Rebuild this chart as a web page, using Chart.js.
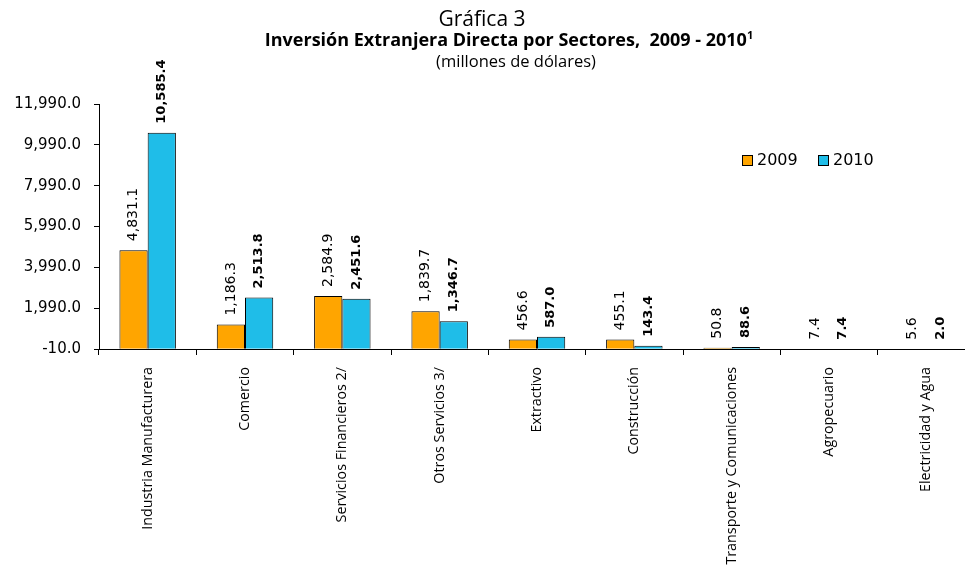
<!DOCTYPE html>
<html>
<head>
<meta charset="utf-8">
<script src="https://cdn.jsdelivr.net/npm/chart.js@4.4.1/dist/chart.umd.min.js"></script>
<style>
  body { margin: 0; background: #fff; overflow: hidden; }
  #wrap { width: 965px; height: 566px; overflow: hidden; }
</style>
</head>
<body>
<div id="wrap"><canvas id="chart-ied" width="975" height="566"></canvas></div>
<script>
// Chart data
const sectores = [
    'Industria Manufacturera', 'Comercio', 'Servicios Financieros 2/', 'Otros Servicios 3/',
    'Extractivo', 'Construcción', 'Transporte y Comunicaciones', 'Agropecuario', 'Electricidad y Agua'
];
const valores2009 = [4831.1, 1186.3, 2584.9, 1839.7, 456.6, 455.1, 50.8, 7.4, 5.6];
const valores2010 = [10585.4, 2513.8, 2451.6, 1346.7, 587.0, 143.4, 88.6, 7.4, 2.0];
const yTicks = [-10, 1990, 3990, 5990, 7990, 9990, 11990];

const titulo = 'Gráfica 3';
const subtitulo = 'Inversión Extranjera Directa por Sectores,  2009 - 2010';
const nota = '1';
const unidades = '(millones de dólares)';

const SANS = '"Open Sans", "Noto Sans", sans-serif';
const fmt = v => v.toLocaleString('en-US', { minimumFractionDigits: 1, maximumFractionDigits: 1 });

// Titles drawn over the page
const titulosPlugin = {
    id: 'titulos',
    afterDraw(chart) {
        const ctx = chart.ctx;
        ctx.save();
        ctx.fillStyle = '#000';
        ctx.textBaseline = 'alphabetic';

        ctx.textAlign = 'center';
        ctx.font = '21px ' + SANS;
        ctx.fillText(titulo, 482, 26);

        ctx.font = 'bold 18px ' + SANS;
        const w = ctx.measureText(subtitulo).width;
        ctx.font = 'bold 11px ' + SANS;
        const wn = ctx.measureText(nota).width;
        const x0 = 509 - (w + wn) / 2;
        ctx.textAlign = 'left';
        ctx.font = 'bold 18px ' + SANS;
        ctx.fillText(subtitulo, x0, 46);
        ctx.font = 'bold 11px ' + SANS;
        ctx.fillText(nota, x0 + w, 39);

        ctx.textAlign = 'center';
        ctx.font = '16.5px ' + SANS;
        ctx.fillText(unidades, 516, 67);
        ctx.restore();
    }
};

// Rotated value labels above each bar
const etiquetasPlugin = {
    id: 'etiquetas',
    afterDatasetsDraw(chart) {
        const ctx = chart.ctx;
        ctx.save();
        ctx.fillStyle = '#000';
        ctx.textAlign = 'left';
        ctx.textBaseline = 'middle';
        chart.data.datasets.forEach((ds, di) => {
            const meta = chart.getDatasetMeta(di);
            ctx.font = di === 1 ? 'bold 13px "DejaVu Sans"' : '14px "DejaVu Sans"';
            meta.data.forEach((bar, i) => {
                ctx.save();
                ctx.translate(bar.x, bar.y - 9);
                ctx.rotate(-Math.PI / 2);
                ctx.fillText(fmt(ds.data[i]), 0, 0);
                ctx.restore();
            });
        });
        ctx.restore();
    }
};

// Legend with small square boxes
const leyendaPlugin = {
    id: 'leyenda',
    afterDraw(chart) {
        const ctx = chart.ctx;
        const area = chart.chartArea;
        let x = area.left + 643;
        const y = 160;
        ctx.save();
        ctx.font = '16px "DejaVu Sans"';
        ctx.textBaseline = 'middle';
        ctx.textAlign = 'left';
        chart.data.datasets.forEach(ds => {
            ctx.fillStyle = ds.backgroundColor;
            ctx.fillRect(x, y - 5, 10, 10);
            ctx.strokeStyle = '#000';
            ctx.lineWidth = 1;
            ctx.strokeRect(x + 0.5, y - 4.5, 10, 10);
            ctx.fillStyle = '#000';
            ctx.fillText(ds.label, x + 15, y + 1);
            x += 76;
        });
        ctx.restore();
    }
};

function initChart() {
    new Chart(document.getElementById('chart-ied'), {
        type: 'bar',
        data: {
            labels: sectores,
            datasets: [
                {
                    label: '2009',
                    data: valores2009,
                    backgroundColor: '#FFA500',
                    borderColor: '#000',
                    borderWidth: 1
                },
                {
                    label: '2010',
                    data: valores2010,
                    backgroundColor: '#1FBDE8',
                    borderColor: '#000',
                    borderWidth: 1
                }
            ]
        },
        options: {
            responsive: false,
            animation: false,
            layout: { padding: { top: 104, left: 0, right: 0, bottom: 0 } },
            datasets: {
                bar: { categoryPercentage: 0.58, barPercentage: 1 }
            },
            scales: {
                x: {
                    grid: { drawOnChartArea: false, drawTicks: true, tickLength: 6, color: '#000' },
                    border: { color: '#000', width: 1 },
                    ticks: {
                        autoSkip: false,
                        minRotation: 90,
                        maxRotation: 90,
                        padding: 12,
                        color: '#000',
                        font: { family: SANS, size: 14.3 }
                    },
                    afterFit(scale) { scale.height = 217; }
                },
                y: {
                    min: -10,
                    max: 11990,
                    grid: { drawOnChartArea: false, drawTicks: true, tickLength: 5, color: '#000' },
                    border: { color: '#000', width: 1 },
                    ticks: {
                        padding: 13,
                        color: '#000',
                        font: { family: '"DejaVu Sans"', size: 15 },
                        callback: v => fmt(v)
                    },
                    afterBuildTicks(scale) { scale.ticks = yTicks.map(v => ({ value: v })); },
                    afterFit(scale) { scale.width = 99; }
                }
            },
            plugins: {
                legend: { display: false },
                tooltip: { enabled: false }
            }
        },
        plugins: [titulosPlugin, etiquetasPlugin, leyendaPlugin]
    });
}

// Make sure the local fonts are ready before drawing on the canvas
Promise.all([
    document.fonts.load('13px "Open Sans"'),
    document.fonts.load('bold 15px "Open Sans"'),
    document.fonts.load('14px "DejaVu Sans"'),
    document.fonts.load('bold 13px "DejaVu Sans"')
]).then(initChart, initChart);
</script>
</body>
</html>
